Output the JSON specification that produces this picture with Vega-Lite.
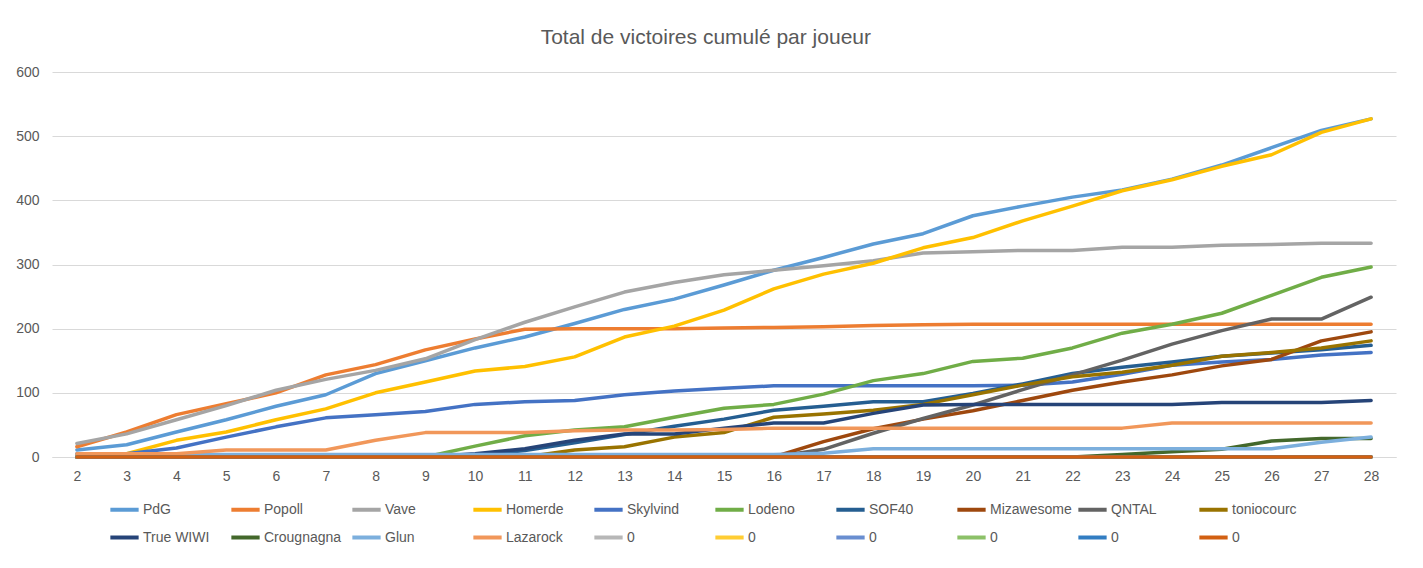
{
  "$schema": "https://vega.github.io/schema/vega-lite/v6.json",
  "autosize": {"type": "none"},
  "padding": {"left": 52, "top": 72, "right": 27, "bottom": 111},
  "width": 1344,
  "height": 385,
  "background": "white",
  "config": {
    "view": {"stroke": null},
    "font": "Liberation Sans"
  },
  "title": {
    "text": "Total de victoires cumulé par joueur",
    "fontSize": 21,
    "fontWeight": "normal",
    "color": "#595959",
    "font": "Liberation Sans",
    "offset": 17,
    "anchor": "middle",
    "frame": "bounds"
  },
  "data": {
    "values": [
      {"j":"PdG","m":2,"v":11},{"j":"PdG","m":3,"v":19},{"j":"PdG","m":4,"v":39},{"j":"PdG","m":5,"v":58},{"j":"PdG","m":6,"v":79},{"j":"PdG","m":7,"v":97},{"j":"PdG","m":8,"v":130},{"j":"PdG","m":9,"v":150},{"j":"PdG","m":10,"v":170},{"j":"PdG","m":11,"v":187},{"j":"PdG","m":12,"v":208},{"j":"PdG","m":13,"v":230},{"j":"PdG","m":14,"v":246},{"j":"PdG","m":15,"v":268},{"j":"PdG","m":16,"v":291},{"j":"PdG","m":17,"v":311},{"j":"PdG","m":18,"v":332},{"j":"PdG","m":19,"v":348},{"j":"PdG","m":20,"v":376},{"j":"PdG","m":21,"v":391},{"j":"PdG","m":22,"v":405},{"j":"PdG","m":23,"v":416},{"j":"PdG","m":24,"v":433},{"j":"PdG","m":25,"v":455},{"j":"PdG","m":26,"v":482},{"j":"PdG","m":27,"v":509},{"j":"PdG","m":28,"v":527},
      {"j":"Popoll","m":2,"v":16},{"j":"Popoll","m":3,"v":39},{"j":"Popoll","m":4,"v":66},{"j":"Popoll","m":5,"v":83},{"j":"Popoll","m":6,"v":100},{"j":"Popoll","m":7,"v":128},{"j":"Popoll","m":8,"v":144},{"j":"Popoll","m":9,"v":167},{"j":"Popoll","m":10,"v":184},{"j":"Popoll","m":11,"v":199},{"j":"Popoll","m":12,"v":200},{"j":"Popoll","m":13,"v":200},{"j":"Popoll","m":14,"v":200},{"j":"Popoll","m":15,"v":201},{"j":"Popoll","m":16,"v":202},{"j":"Popoll","m":17,"v":203},{"j":"Popoll","m":18,"v":205},{"j":"Popoll","m":19,"v":206},{"j":"Popoll","m":20,"v":207},{"j":"Popoll","m":21,"v":207},{"j":"Popoll","m":22,"v":207},{"j":"Popoll","m":23,"v":207},{"j":"Popoll","m":24,"v":207},{"j":"Popoll","m":25,"v":207},{"j":"Popoll","m":26,"v":207},{"j":"Popoll","m":27,"v":207},{"j":"Popoll","m":28,"v":207},
      {"j":"Vave","m":2,"v":21},{"j":"Vave","m":3,"v":36},{"j":"Vave","m":4,"v":58},{"j":"Vave","m":5,"v":80},{"j":"Vave","m":6,"v":104},{"j":"Vave","m":7,"v":121},{"j":"Vave","m":8,"v":135},{"j":"Vave","m":9,"v":153},{"j":"Vave","m":10,"v":183},{"j":"Vave","m":11,"v":210},{"j":"Vave","m":12,"v":234},{"j":"Vave","m":13,"v":257},{"j":"Vave","m":14,"v":272},{"j":"Vave","m":15,"v":284},{"j":"Vave","m":16,"v":291},{"j":"Vave","m":17,"v":298},{"j":"Vave","m":18,"v":306},{"j":"Vave","m":19,"v":318},{"j":"Vave","m":20,"v":320},{"j":"Vave","m":21,"v":322},{"j":"Vave","m":22,"v":322},{"j":"Vave","m":23,"v":327},{"j":"Vave","m":24,"v":327},{"j":"Vave","m":25,"v":330},{"j":"Vave","m":26,"v":331},{"j":"Vave","m":27,"v":333},{"j":"Vave","m":28,"v":333},
      {"j":"Homerde","m":2,"v":2},{"j":"Homerde","m":3,"v":5},{"j":"Homerde","m":4,"v":26},{"j":"Homerde","m":5,"v":39},{"j":"Homerde","m":6,"v":58},{"j":"Homerde","m":7,"v":75},{"j":"Homerde","m":8,"v":100},{"j":"Homerde","m":9,"v":117},{"j":"Homerde","m":10,"v":134},{"j":"Homerde","m":11,"v":141},{"j":"Homerde","m":12,"v":156},{"j":"Homerde","m":13,"v":187},{"j":"Homerde","m":14,"v":204},{"j":"Homerde","m":15,"v":229},{"j":"Homerde","m":16,"v":262},{"j":"Homerde","m":17,"v":285},{"j":"Homerde","m":18,"v":302},{"j":"Homerde","m":19,"v":326},{"j":"Homerde","m":20,"v":342},{"j":"Homerde","m":21,"v":368},{"j":"Homerde","m":22,"v":391},{"j":"Homerde","m":23,"v":415},{"j":"Homerde","m":24,"v":432},{"j":"Homerde","m":25,"v":453},{"j":"Homerde","m":26,"v":471},{"j":"Homerde","m":27,"v":506},{"j":"Homerde","m":28,"v":527},
      {"j":"Skylvind","m":2,"v":5},{"j":"Skylvind","m":3,"v":5},{"j":"Skylvind","m":4,"v":14},{"j":"Skylvind","m":5,"v":31},{"j":"Skylvind","m":6,"v":47},{"j":"Skylvind","m":7,"v":61},{"j":"Skylvind","m":8,"v":66},{"j":"Skylvind","m":9,"v":71},{"j":"Skylvind","m":10,"v":82},{"j":"Skylvind","m":11,"v":86},{"j":"Skylvind","m":12,"v":88},{"j":"Skylvind","m":13,"v":97},{"j":"Skylvind","m":14,"v":103},{"j":"Skylvind","m":15,"v":107},{"j":"Skylvind","m":16,"v":111},{"j":"Skylvind","m":17,"v":111},{"j":"Skylvind","m":18,"v":111},{"j":"Skylvind","m":19,"v":111},{"j":"Skylvind","m":20,"v":111},{"j":"Skylvind","m":21,"v":112},{"j":"Skylvind","m":22,"v":117},{"j":"Skylvind","m":23,"v":129},{"j":"Skylvind","m":24,"v":143},{"j":"Skylvind","m":25,"v":148},{"j":"Skylvind","m":26,"v":152},{"j":"Skylvind","m":27,"v":159},{"j":"Skylvind","m":28,"v":163},
      {"j":"Lodeno","m":2,"v":0},{"j":"Lodeno","m":3,"v":0},{"j":"Lodeno","m":4,"v":0},{"j":"Lodeno","m":5,"v":0},{"j":"Lodeno","m":6,"v":0},{"j":"Lodeno","m":7,"v":0},{"j":"Lodeno","m":8,"v":0},{"j":"Lodeno","m":9,"v":0},{"j":"Lodeno","m":10,"v":17},{"j":"Lodeno","m":11,"v":33},{"j":"Lodeno","m":12,"v":42},{"j":"Lodeno","m":13,"v":47},{"j":"Lodeno","m":14,"v":62},{"j":"Lodeno","m":15,"v":76},{"j":"Lodeno","m":16,"v":82},{"j":"Lodeno","m":17,"v":98},{"j":"Lodeno","m":18,"v":119},{"j":"Lodeno","m":19,"v":130},{"j":"Lodeno","m":20,"v":149},{"j":"Lodeno","m":21,"v":154},{"j":"Lodeno","m":22,"v":170},{"j":"Lodeno","m":23,"v":193},{"j":"Lodeno","m":24,"v":207},{"j":"Lodeno","m":25,"v":224},{"j":"Lodeno","m":26,"v":252},{"j":"Lodeno","m":27,"v":280},{"j":"Lodeno","m":28,"v":296},
      {"j":"SOF40","m":2,"v":0},{"j":"SOF40","m":3,"v":0},{"j":"SOF40","m":4,"v":0},{"j":"SOF40","m":5,"v":0},{"j":"SOF40","m":6,"v":0},{"j":"SOF40","m":7,"v":0},{"j":"SOF40","m":8,"v":0},{"j":"SOF40","m":9,"v":0},{"j":"SOF40","m":10,"v":2},{"j":"SOF40","m":11,"v":10},{"j":"SOF40","m":12,"v":22},{"j":"SOF40","m":13,"v":35},{"j":"SOF40","m":14,"v":48},{"j":"SOF40","m":15,"v":59},{"j":"SOF40","m":16,"v":73},{"j":"SOF40","m":17,"v":79},{"j":"SOF40","m":18,"v":86},{"j":"SOF40","m":19,"v":86},{"j":"SOF40","m":20,"v":99},{"j":"SOF40","m":21,"v":114},{"j":"SOF40","m":22,"v":130},{"j":"SOF40","m":23,"v":140},{"j":"SOF40","m":24,"v":148},{"j":"SOF40","m":25,"v":157},{"j":"SOF40","m":26,"v":162},{"j":"SOF40","m":27,"v":167},{"j":"SOF40","m":28,"v":174},
      {"j":"Mizawesome","m":2,"v":0},{"j":"Mizawesome","m":3,"v":0},{"j":"Mizawesome","m":4,"v":0},{"j":"Mizawesome","m":5,"v":0},{"j":"Mizawesome","m":6,"v":0},{"j":"Mizawesome","m":7,"v":0},{"j":"Mizawesome","m":8,"v":0},{"j":"Mizawesome","m":9,"v":0},{"j":"Mizawesome","m":10,"v":0},{"j":"Mizawesome","m":11,"v":0},{"j":"Mizawesome","m":12,"v":0},{"j":"Mizawesome","m":13,"v":0},{"j":"Mizawesome","m":14,"v":0},{"j":"Mizawesome","m":15,"v":0},{"j":"Mizawesome","m":16,"v":0},{"j":"Mizawesome","m":17,"v":24},{"j":"Mizawesome","m":18,"v":44},{"j":"Mizawesome","m":19,"v":59},{"j":"Mizawesome","m":20,"v":72},{"j":"Mizawesome","m":21,"v":88},{"j":"Mizawesome","m":22,"v":104},{"j":"Mizawesome","m":23,"v":117},{"j":"Mizawesome","m":24,"v":128},{"j":"Mizawesome","m":25,"v":142},{"j":"Mizawesome","m":26,"v":152},{"j":"Mizawesome","m":27,"v":181},{"j":"Mizawesome","m":28,"v":195},
      {"j":"QNTAL","m":2,"v":0},{"j":"QNTAL","m":3,"v":0},{"j":"QNTAL","m":4,"v":0},{"j":"QNTAL","m":5,"v":0},{"j":"QNTAL","m":6,"v":0},{"j":"QNTAL","m":7,"v":0},{"j":"QNTAL","m":8,"v":0},{"j":"QNTAL","m":9,"v":0},{"j":"QNTAL","m":10,"v":0},{"j":"QNTAL","m":11,"v":0},{"j":"QNTAL","m":12,"v":0},{"j":"QNTAL","m":13,"v":0},{"j":"QNTAL","m":14,"v":0},{"j":"QNTAL","m":15,"v":0},{"j":"QNTAL","m":16,"v":0},{"j":"QNTAL","m":17,"v":12},{"j":"QNTAL","m":18,"v":37},{"j":"QNTAL","m":19,"v":60},{"j":"QNTAL","m":20,"v":81},{"j":"QNTAL","m":21,"v":105},{"j":"QNTAL","m":22,"v":128},{"j":"QNTAL","m":23,"v":151},{"j":"QNTAL","m":24,"v":176},{"j":"QNTAL","m":25,"v":197},{"j":"QNTAL","m":26,"v":215},{"j":"QNTAL","m":27,"v":215},{"j":"QNTAL","m":28,"v":249},
      {"j":"toniocourc","m":2,"v":0},{"j":"toniocourc","m":3,"v":0},{"j":"toniocourc","m":4,"v":0},{"j":"toniocourc","m":5,"v":0},{"j":"toniocourc","m":6,"v":0},{"j":"toniocourc","m":7,"v":0},{"j":"toniocourc","m":8,"v":0},{"j":"toniocourc","m":9,"v":0},{"j":"toniocourc","m":10,"v":0},{"j":"toniocourc","m":11,"v":0},{"j":"toniocourc","m":12,"v":11},{"j":"toniocourc","m":13,"v":16},{"j":"toniocourc","m":14,"v":31},{"j":"toniocourc","m":15,"v":38},{"j":"toniocourc","m":16,"v":62},{"j":"toniocourc","m":17,"v":67},{"j":"toniocourc","m":18,"v":73},{"j":"toniocourc","m":19,"v":82},{"j":"toniocourc","m":20,"v":97},{"j":"toniocourc","m":21,"v":112},{"j":"toniocourc","m":22,"v":125},{"j":"toniocourc","m":23,"v":132},{"j":"toniocourc","m":24,"v":143},{"j":"toniocourc","m":25,"v":157},{"j":"toniocourc","m":26,"v":163},{"j":"toniocourc","m":27,"v":170},{"j":"toniocourc","m":28,"v":181},
      {"j":"True WIWI","m":2,"v":0},{"j":"True WIWI","m":3,"v":0},{"j":"True WIWI","m":4,"v":0},{"j":"True WIWI","m":5,"v":0},{"j":"True WIWI","m":6,"v":0},{"j":"True WIWI","m":7,"v":0},{"j":"True WIWI","m":8,"v":0},{"j":"True WIWI","m":9,"v":0},{"j":"True WIWI","m":10,"v":5},{"j":"True WIWI","m":11,"v":13},{"j":"True WIWI","m":12,"v":26},{"j":"True WIWI","m":13,"v":36},{"j":"True WIWI","m":14,"v":36},{"j":"True WIWI","m":15,"v":45},{"j":"True WIWI","m":16,"v":53},{"j":"True WIWI","m":17,"v":53},{"j":"True WIWI","m":18,"v":68},{"j":"True WIWI","m":19,"v":81},{"j":"True WIWI","m":20,"v":82},{"j":"True WIWI","m":21,"v":82},{"j":"True WIWI","m":22,"v":82},{"j":"True WIWI","m":23,"v":82},{"j":"True WIWI","m":24,"v":82},{"j":"True WIWI","m":25,"v":85},{"j":"True WIWI","m":26,"v":85},{"j":"True WIWI","m":27,"v":85},{"j":"True WIWI","m":28,"v":88},
      {"j":"Crougnagna","m":2,"v":0},{"j":"Crougnagna","m":3,"v":0},{"j":"Crougnagna","m":4,"v":0},{"j":"Crougnagna","m":5,"v":0},{"j":"Crougnagna","m":6,"v":0},{"j":"Crougnagna","m":7,"v":0},{"j":"Crougnagna","m":8,"v":0},{"j":"Crougnagna","m":9,"v":0},{"j":"Crougnagna","m":10,"v":0},{"j":"Crougnagna","m":11,"v":0},{"j":"Crougnagna","m":12,"v":0},{"j":"Crougnagna","m":13,"v":0},{"j":"Crougnagna","m":14,"v":0},{"j":"Crougnagna","m":15,"v":0},{"j":"Crougnagna","m":16,"v":0},{"j":"Crougnagna","m":17,"v":0},{"j":"Crougnagna","m":18,"v":0},{"j":"Crougnagna","m":19,"v":0},{"j":"Crougnagna","m":20,"v":0},{"j":"Crougnagna","m":21,"v":0},{"j":"Crougnagna","m":22,"v":0},{"j":"Crougnagna","m":23,"v":4},{"j":"Crougnagna","m":24,"v":8},{"j":"Crougnagna","m":25,"v":12},{"j":"Crougnagna","m":26,"v":25},{"j":"Crougnagna","m":27,"v":29},{"j":"Crougnagna","m":28,"v":29},
      {"j":"Glun","m":2,"v":4},{"j":"Glun","m":3,"v":4},{"j":"Glun","m":4,"v":4},{"j":"Glun","m":5,"v":4},{"j":"Glun","m":6,"v":4},{"j":"Glun","m":7,"v":4},{"j":"Glun","m":8,"v":4},{"j":"Glun","m":9,"v":4},{"j":"Glun","m":10,"v":4},{"j":"Glun","m":11,"v":4},{"j":"Glun","m":12,"v":4},{"j":"Glun","m":13,"v":4},{"j":"Glun","m":14,"v":4},{"j":"Glun","m":15,"v":4},{"j":"Glun","m":16,"v":4},{"j":"Glun","m":17,"v":6},{"j":"Glun","m":18,"v":13},{"j":"Glun","m":19,"v":13},{"j":"Glun","m":20,"v":13},{"j":"Glun","m":21,"v":13},{"j":"Glun","m":22,"v":13},{"j":"Glun","m":23,"v":13},{"j":"Glun","m":24,"v":13},{"j":"Glun","m":25,"v":13},{"j":"Glun","m":26,"v":13},{"j":"Glun","m":27,"v":23},{"j":"Glun","m":28,"v":31},
      {"j":"Lazarock","m":2,"v":5},{"j":"Lazarock","m":3,"v":5},{"j":"Lazarock","m":4,"v":5},{"j":"Lazarock","m":5,"v":11},{"j":"Lazarock","m":6,"v":11},{"j":"Lazarock","m":7,"v":11},{"j":"Lazarock","m":8,"v":26},{"j":"Lazarock","m":9,"v":38},{"j":"Lazarock","m":10,"v":38},{"j":"Lazarock","m":11,"v":38},{"j":"Lazarock","m":12,"v":41},{"j":"Lazarock","m":13,"v":42},{"j":"Lazarock","m":14,"v":42},{"j":"Lazarock","m":15,"v":43},{"j":"Lazarock","m":16,"v":45},{"j":"Lazarock","m":17,"v":45},{"j":"Lazarock","m":18,"v":45},{"j":"Lazarock","m":19,"v":45},{"j":"Lazarock","m":20,"v":45},{"j":"Lazarock","m":21,"v":45},{"j":"Lazarock","m":22,"v":45},{"j":"Lazarock","m":23,"v":45},{"j":"Lazarock","m":24,"v":53},{"j":"Lazarock","m":25,"v":53},{"j":"Lazarock","m":26,"v":53},{"j":"Lazarock","m":27,"v":53},{"j":"Lazarock","m":28,"v":53},
      {"j":"0_1","m":2,"v":0},{"j":"0_1","m":3,"v":0},{"j":"0_1","m":4,"v":0},{"j":"0_1","m":5,"v":0},{"j":"0_1","m":6,"v":0},{"j":"0_1","m":7,"v":0},{"j":"0_1","m":8,"v":0},{"j":"0_1","m":9,"v":0},{"j":"0_1","m":10,"v":0},{"j":"0_1","m":11,"v":0},{"j":"0_1","m":12,"v":0},{"j":"0_1","m":13,"v":0},{"j":"0_1","m":14,"v":0},{"j":"0_1","m":15,"v":0},{"j":"0_1","m":16,"v":0},{"j":"0_1","m":17,"v":0},{"j":"0_1","m":18,"v":0},{"j":"0_1","m":19,"v":0},{"j":"0_1","m":20,"v":0},{"j":"0_1","m":21,"v":0},{"j":"0_1","m":22,"v":0},{"j":"0_1","m":23,"v":0},{"j":"0_1","m":24,"v":0},{"j":"0_1","m":25,"v":0},{"j":"0_1","m":26,"v":0},{"j":"0_1","m":27,"v":0},{"j":"0_1","m":28,"v":0},
      {"j":"0_2","m":2,"v":0},{"j":"0_2","m":3,"v":0},{"j":"0_2","m":4,"v":0},{"j":"0_2","m":5,"v":0},{"j":"0_2","m":6,"v":0},{"j":"0_2","m":7,"v":0},{"j":"0_2","m":8,"v":0},{"j":"0_2","m":9,"v":0},{"j":"0_2","m":10,"v":0},{"j":"0_2","m":11,"v":0},{"j":"0_2","m":12,"v":0},{"j":"0_2","m":13,"v":0},{"j":"0_2","m":14,"v":0},{"j":"0_2","m":15,"v":0},{"j":"0_2","m":16,"v":0},{"j":"0_2","m":17,"v":0},{"j":"0_2","m":18,"v":0},{"j":"0_2","m":19,"v":0},{"j":"0_2","m":20,"v":0},{"j":"0_2","m":21,"v":0},{"j":"0_2","m":22,"v":0},{"j":"0_2","m":23,"v":0},{"j":"0_2","m":24,"v":0},{"j":"0_2","m":25,"v":0},{"j":"0_2","m":26,"v":0},{"j":"0_2","m":27,"v":0},{"j":"0_2","m":28,"v":0},
      {"j":"0_3","m":2,"v":0},{"j":"0_3","m":3,"v":0},{"j":"0_3","m":4,"v":0},{"j":"0_3","m":5,"v":0},{"j":"0_3","m":6,"v":0},{"j":"0_3","m":7,"v":0},{"j":"0_3","m":8,"v":0},{"j":"0_3","m":9,"v":0},{"j":"0_3","m":10,"v":0},{"j":"0_3","m":11,"v":0},{"j":"0_3","m":12,"v":0},{"j":"0_3","m":13,"v":0},{"j":"0_3","m":14,"v":0},{"j":"0_3","m":15,"v":0},{"j":"0_3","m":16,"v":0},{"j":"0_3","m":17,"v":0},{"j":"0_3","m":18,"v":0},{"j":"0_3","m":19,"v":0},{"j":"0_3","m":20,"v":0},{"j":"0_3","m":21,"v":0},{"j":"0_3","m":22,"v":0},{"j":"0_3","m":23,"v":0},{"j":"0_3","m":24,"v":0},{"j":"0_3","m":25,"v":0},{"j":"0_3","m":26,"v":0},{"j":"0_3","m":27,"v":0},{"j":"0_3","m":28,"v":0},
      {"j":"0_4","m":2,"v":0},{"j":"0_4","m":3,"v":0},{"j":"0_4","m":4,"v":0},{"j":"0_4","m":5,"v":0},{"j":"0_4","m":6,"v":0},{"j":"0_4","m":7,"v":0},{"j":"0_4","m":8,"v":0},{"j":"0_4","m":9,"v":0},{"j":"0_4","m":10,"v":0},{"j":"0_4","m":11,"v":0},{"j":"0_4","m":12,"v":0},{"j":"0_4","m":13,"v":0},{"j":"0_4","m":14,"v":0},{"j":"0_4","m":15,"v":0},{"j":"0_4","m":16,"v":0},{"j":"0_4","m":17,"v":0},{"j":"0_4","m":18,"v":0},{"j":"0_4","m":19,"v":0},{"j":"0_4","m":20,"v":0},{"j":"0_4","m":21,"v":0},{"j":"0_4","m":22,"v":0},{"j":"0_4","m":23,"v":0},{"j":"0_4","m":24,"v":0},{"j":"0_4","m":25,"v":0},{"j":"0_4","m":26,"v":0},{"j":"0_4","m":27,"v":0},{"j":"0_4","m":28,"v":0},
      {"j":"0_5","m":2,"v":0},{"j":"0_5","m":3,"v":0},{"j":"0_5","m":4,"v":0},{"j":"0_5","m":5,"v":0},{"j":"0_5","m":6,"v":0},{"j":"0_5","m":7,"v":0},{"j":"0_5","m":8,"v":0},{"j":"0_5","m":9,"v":0},{"j":"0_5","m":10,"v":0},{"j":"0_5","m":11,"v":0},{"j":"0_5","m":12,"v":0},{"j":"0_5","m":13,"v":0},{"j":"0_5","m":14,"v":0},{"j":"0_5","m":15,"v":0},{"j":"0_5","m":16,"v":0},{"j":"0_5","m":17,"v":0},{"j":"0_5","m":18,"v":0},{"j":"0_5","m":19,"v":0},{"j":"0_5","m":20,"v":0},{"j":"0_5","m":21,"v":0},{"j":"0_5","m":22,"v":0},{"j":"0_5","m":23,"v":0},{"j":"0_5","m":24,"v":0},{"j":"0_5","m":25,"v":0},{"j":"0_5","m":26,"v":0},{"j":"0_5","m":27,"v":0},{"j":"0_5","m":28,"v":0},
      {"j":"0_6","m":2,"v":0},{"j":"0_6","m":3,"v":0},{"j":"0_6","m":4,"v":0},{"j":"0_6","m":5,"v":0},{"j":"0_6","m":6,"v":0},{"j":"0_6","m":7,"v":0},{"j":"0_6","m":8,"v":0},{"j":"0_6","m":9,"v":0},{"j":"0_6","m":10,"v":0},{"j":"0_6","m":11,"v":0},{"j":"0_6","m":12,"v":0},{"j":"0_6","m":13,"v":0},{"j":"0_6","m":14,"v":0},{"j":"0_6","m":15,"v":0},{"j":"0_6","m":16,"v":0},{"j":"0_6","m":17,"v":0},{"j":"0_6","m":18,"v":0},{"j":"0_6","m":19,"v":0},{"j":"0_6","m":20,"v":0},{"j":"0_6","m":21,"v":0},{"j":"0_6","m":22,"v":0},{"j":"0_6","m":23,"v":0},{"j":"0_6","m":24,"v":0},{"j":"0_6","m":25,"v":0},{"j":"0_6","m":26,"v":0},{"j":"0_6","m":27,"v":0},{"j":"0_6","m":28,"v":0}
    ]
  },
  "mark": {"type": "line", "strokeWidth": 3.5, "strokeCap": "round", "strokeJoin": "round"},
  "encoding": {
    "x": {
      "field": "m",
      "type": "ordinal",
      "scale": {"type": "point", "padding": 0.5},
      "axis": {
        "title": null,
        "labelAngle": 0,
        "labelFontSize": 14,
        "labelColor": "#595959",
        "labelPadding": 12,
        "ticks": false,
        "domainColor": "#D9D9D9",
        "domainWidth": 1,
        "grid": false
      }
    },
    "y": {
      "field": "v",
      "type": "quantitative",
      "scale": {"domain": [0, 600], "nice": false, "zero": true},
      "axis": {
        "title": null,
        "values": [0, 100, 200, 300, 400, 500, 600],
        "labelFontSize": 14,
        "labelColor": "#595959",
        "labelPadding": 13,
        "ticks": false,
        "domain": false,
        "gridColor": "#D9D9D9",
        "gridWidth": 1
      }
    },
    "color": {
      "field": "j",
      "type": "nominal",
      "scale": {
        "domain": ["PdG","Popoll","Vave","Homerde","Skylvind","Lodeno","SOF40","Mizawesome","QNTAL","toniocourc","True WIWI","Crougnagna","Glun","Lazarock","0_1","0_2","0_3","0_4","0_5","0_6"],
        "range": ["#5B9BD5","#ED7D31","#A5A5A5","#FFC000","#4472C4","#70AD47","#255E91","#9E480E","#636363","#997300","#264478","#43682B","#7CAFDD","#F1975A","#B7B7B7","#FFCD33","#698ED0","#8CC168","#327DC2","#D26012"]
      },
      "legend": {
        "title": null,
        "orient": "none",
        "legendX": 56,
        "legendY": 421,
        "direction": "horizontal",
        "columns": 10,
        "gridAlign": "all",
        "symbolType": "stroke",
        "symbolSize": 800,
        "symbolStrokeWidth": 4,
        "labelFontSize": 14,
        "labelColor": "#595959",
        "labelOffset": 2,
        "columnPadding": -2,
        "rowPadding": 3,
        "labelExpr": "slice(datum.label, 0, 2) == '0_' ? '0' : datum.label"
      }
    }
  }
}
